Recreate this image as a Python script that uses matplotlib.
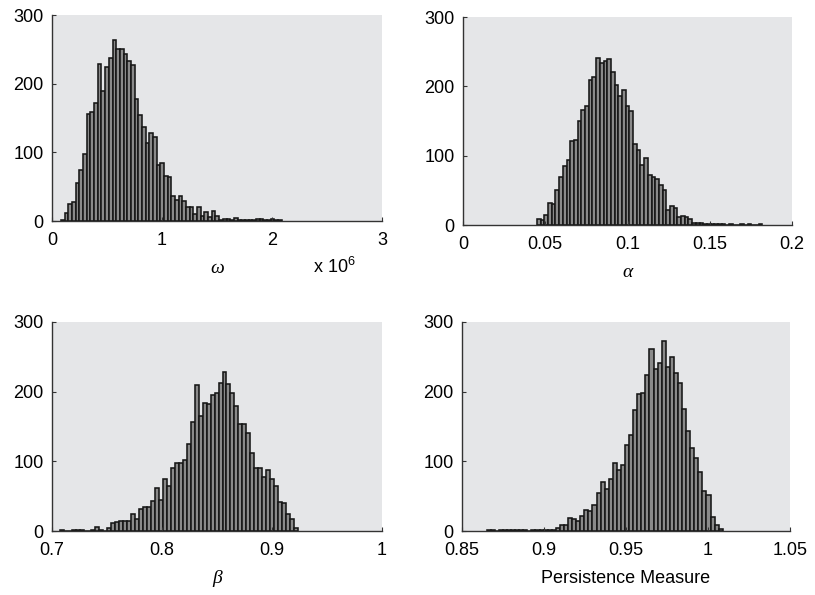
"""Posterior histograms of the GARCH(1,1) parameters and the persistence measure."""

import matplotlib.pyplot as plt
import numpy as np

plt.rcParams["font.family"] = ["Liberation Sans", "DejaVu Sans"]
plt.rcParams["mathtext.default"] = "regular"

# omega, in units of 1e6 (the axis carries the "x 10^6" note)
omega_range = (0.082, 2.088)
omega_counts = [2, 11, 25, 28, 55, 75, 97, 156, 159, 172,
                228, 190, 224, 238, 263, 251, 251, 243, 233, 227,
                178, 154, 137, 113, 128, 123, 82, 84, 65, 64,
                37, 31, 36, 29, 20, 20, 10, 21, 7, 13,
                6, 14, 8, 2, 3, 3, 2, 4, 2, 1,
                1, 2, 1, 3, 3, 1, 1, 3, 1, 1]

alpha_range = (0.045, 0.182)
alpha_counts = [8, 7, 14, 32, 31, 51, 69, 85, 94, 121,
                122, 150, 166, 171, 209, 214, 241, 234, 237, 239,
                220, 202, 186, 194, 172, 165, 117, 108, 87, 97,
                72, 69, 67, 58, 50, 21, 27, 24, 12, 13,
                12, 8, 3, 3, 3, 1, 1, 2, 2, 2,
                1, 0, 1, 0, 0, 1, 0, 2, 0, 0, 1]

beta_range = (0.707, 0.9236)
beta_counts = [2, 0, 0, 2, 2, 1, 0, 0, 2, 6,
               1, 0, 4, 12, 13, 14, 14, 15, 25, 17,
               32, 35, 34, 43, 62, 45, 75, 65, 90, 97,
               98, 102, 125, 156, 210, 165, 184, 183, 195, 198,
               212, 228, 211, 198, 179, 154, 154, 141, 112, 91,
               90, 77, 87, 74, 65, 41, 40, 25, 17, 4]

pers_range = (0.865, 1.009)
pers_counts = [1, 1, 0, 1, 1, 1, 2, 1, 2, 1,
               0, 1, 1, 2, 2, 2, 2, 4, 8, 8,
               18, 17, 14, 22, 30, 29, 37, 55, 71, 60,
               75, 98, 87, 95, 123, 138, 174, 196, 198, 224,
               261, 233, 241, 273, 236, 250, 227, 212, 175, 143,
               119, 105, 85, 58, 52, 20, 8, 3]

panels = [
    # counts, range, xlim, xticks, tick labels, label, box (l, r, top, bottom) in px
    (omega_counts, omega_range, (0, 3), [0, 1, 2, 3], ["0", "1", "2", "3"],
     "\u03c9", (52, 382, 15, 221)),
    (alpha_counts, alpha_range, (0, 0.2), [0, 0.05, 0.1, 0.15, 0.2],
     ["0", "0.05", "0.1", "0.15", "0.2"], "\u03b1", (463, 792, 17, 225)),
    (beta_counts, beta_range, (0.7, 1.0), [0.7, 0.8, 0.9, 1.0],
     ["0.7", "0.8", "0.9", "1"], "\u03b2", (52, 382, 322, 531)),
    (pers_counts, pers_range, (0.85, 1.05), [0.85, 0.9, 0.95, 1.0, 1.05],
     ["0.85", "0.9", "0.95", "1", "1.05"], "Persistence Measure", (462, 790, 322, 531)),
]

W, H = 815, 595
fig = plt.figure(figsize=(W / 100, H / 100), dpi=100)

for counts, (lo, hi), xlim, xticks, xticklabels, label, (l, r, t, b) in panels:
    ax = fig.add_axes([l / W, 1 - b / H, (r - l) / W, (b - t) / H])
    ax.set_facecolor("#e5e6e8")
    edges = np.linspace(lo, hi, len(counts) + 1)
    ax.bar(edges[:-1], counts, width=np.diff(edges), align="edge",
           color="#8a8a8a", edgecolor="#161616", linewidth=1.15)
    ax.set_xlim(*xlim)
    ax.set_ylim(0, 300)
    ax.set_xticks(xticks)
    ax.set_xticklabels(xticklabels)
    ax.set_yticks([0, 100, 200, 300])
    ax.tick_params(direction="in", length=3, width=0.8, labelsize=13,
                   color="#333333")
    ax.tick_params(axis="x", pad=8)
    ax.tick_params(axis="y", pad=6)
    for side in ("top", "right"):
        ax.spines[side].set_visible(False)
    for side in ("left", "bottom"):
        ax.spines[side].set_color("#333333")
        ax.spines[side].set_linewidth(1.0)
    if label.startswith("Pers"):
        ax.set_xlabel(label, fontsize=13, labelpad=8)
    else:
        ax.set_xlabel(label, fontsize=14, family="Liberation Serif",
                      style="italic", labelpad=8)

# exponent note on the omega axis
fig.text(313 / W, 1 - 267 / H, "x 10$^{6}$", fontsize=13, va="center", ha="left")

fig.savefig("out.png", dpi=100)
